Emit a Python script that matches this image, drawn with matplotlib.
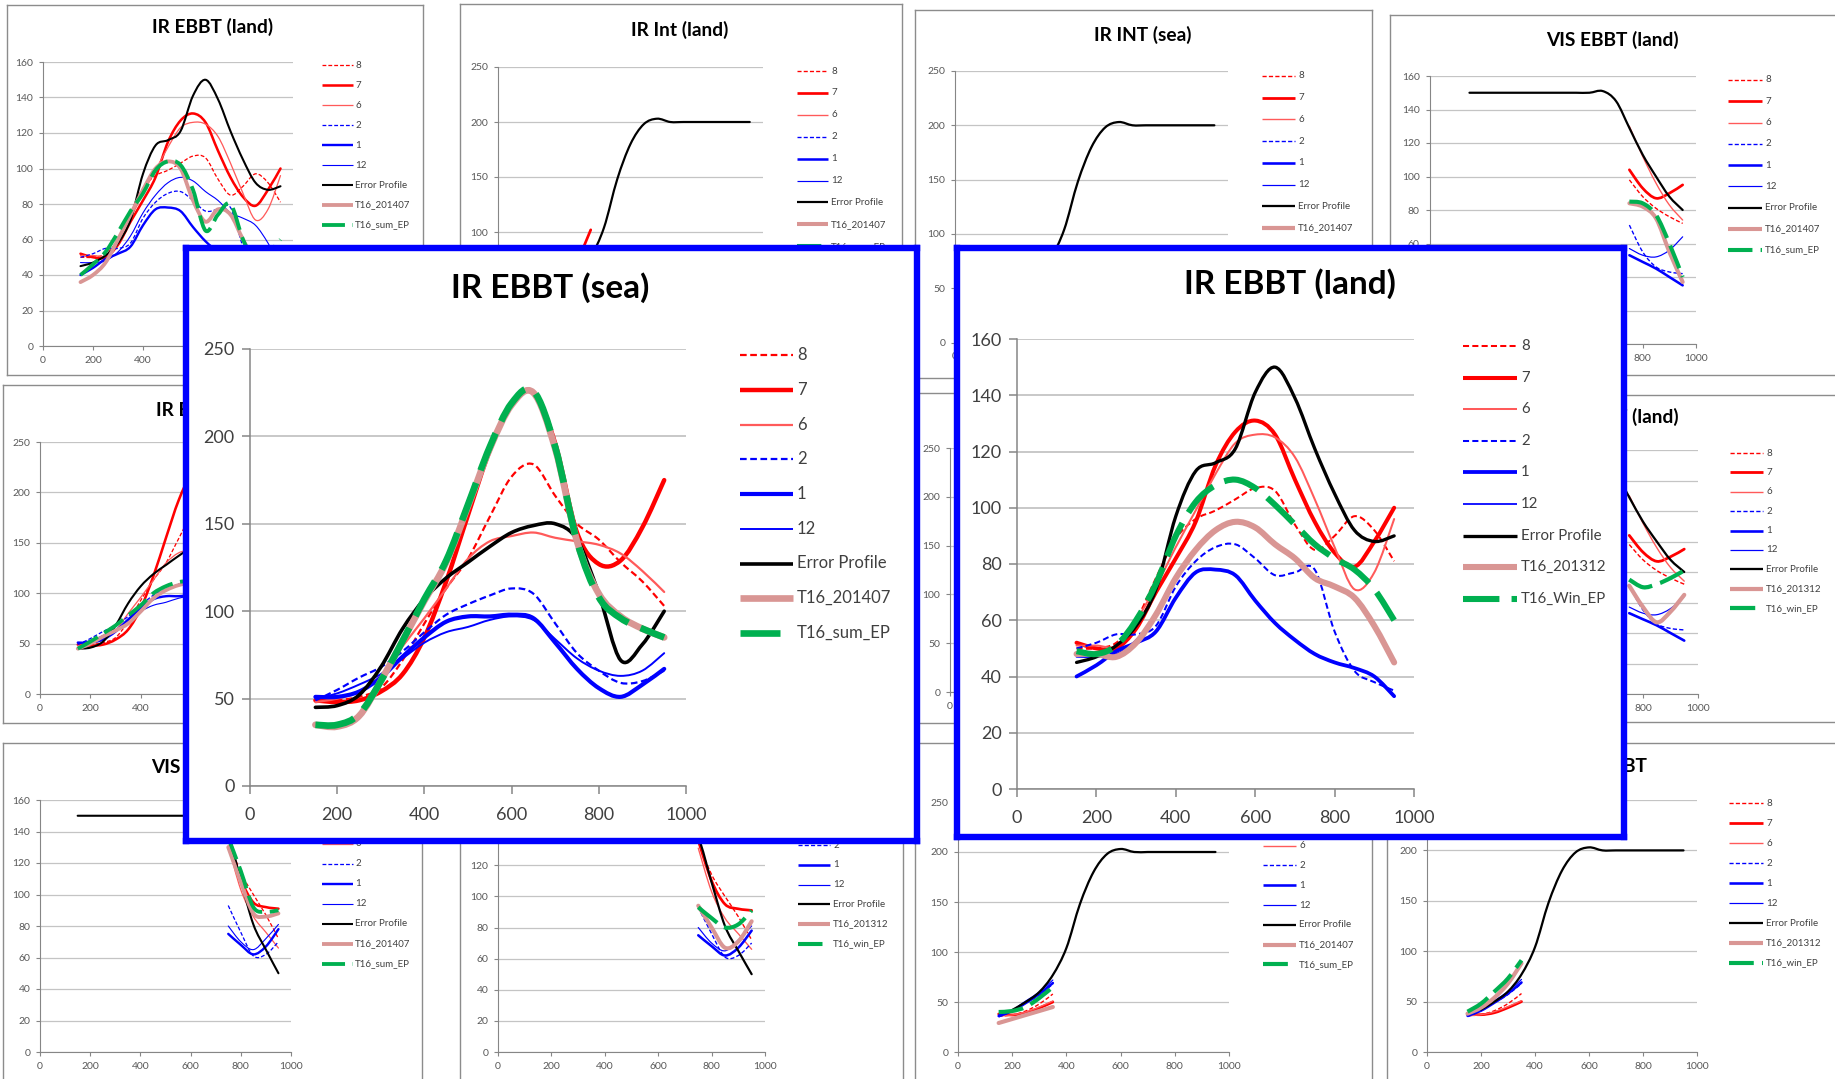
import numpy as np
import matplotlib
matplotlib.use("Agg")
import matplotlib.pyplot as plt
from matplotlib.path import Path
from matplotlib.patches import PathPatch
from matplotlib.ticker import FuncFormatter

W, H = 1835, 1079
plt.rcParams['font.family'] = ['Lato', 'DejaVu Sans']

# ---- values ----
X_FULL = [150, 200, 250, 300, 350, 400, 450, 500, 550, 600, 650, 700, 750, 800, 850, 900, 950]
X_VIS = [750, 800, 850, 900, 950]
X_INT = [150, 200, 250, 300, 350]
X_INT_EP = [200, 250, 300, 350, 400, 450, 500, 550, 600, 650, 700, 750, 800, 850, 900, 950]

# IR EBBT (sea)
SEA_8 = [48, 49, 51, 56, 72, 93, 113, 130, 154, 177, 184, 166, 150, 141, 128, 117, 103]
SEA_7 = [49, 48, 49, 54, 64, 85, 117, 155, 192, 218, 225, 196, 145, 127, 129, 148, 175]
SEA_6 = [48, 50, 54, 63, 80, 96, 113, 130, 140, 143, 145, 142, 140, 138, 133, 123, 111]
SEA_2 = [49, 55, 62, 68, 77, 88, 98, 104, 109, 113, 110, 93, 76, 66, 59, 60, 66]
SEA_1 = [51, 51, 54, 62, 74, 85, 94, 97, 97, 98, 96, 82, 67, 56, 51, 58, 67]
SEA_12 = [50, 53, 58, 64, 73, 82, 88, 91, 95, 97, 95, 84, 73, 66, 63, 66, 76]
SEA_EP = [45, 46, 52, 68, 90, 107, 119, 128, 137, 145, 149, 150, 141, 110, 72, 81, 100]
SEA_T16_201407 = [35, 34, 40, 60, 83, 106, 128, 160, 193, 218, 225, 193, 140, 110, 97, 90, 85]
SEA_T16_SUM = [35, 35, 41, 60, 83, 107, 129, 161, 194, 219, 226, 194, 140, 108, 96, 90, 85]
SEA_SMALL_201407 = [45, 50, 57, 63, 70, 82, 95, 103, 108, 110, 108, 103, 97, 91, 87, 85, 84]
SEA_SMALL_SUM = [45, 52, 60, 68, 78, 88, 100, 107, 111, 112, 110, 105, 98, 92, 88, 86, 85]

# IR EBBT (land)
LAND_8 = [50, 50, 52, 60, 75, 89, 96, 99, 103, 107, 106, 94, 85, 90, 97, 92, 81]
LAND_7 = [52, 50, 50, 57, 70, 82, 95, 115, 127, 131, 126, 110, 95, 84, 79, 88, 100]
LAND_6 = [51, 51, 51, 60, 72, 86, 99, 112, 123, 126, 125, 118, 103, 86, 71, 77, 96]
LAND_2 = [50, 52, 55, 55, 58, 72, 81, 86, 87, 82, 76, 77, 78, 56, 42, 38, 35]
LAND_1 = [40, 44, 49, 52, 56, 68, 77, 78, 76, 67, 59, 53, 48, 45, 43, 40, 33]
LAND_12 = [47, 47, 48, 53, 62, 75, 85, 92, 95, 93, 87, 82, 75, 72, 68, 58, 45]
LAND_EP = [45, 47, 51, 58, 71, 97, 113, 116, 121, 141, 150, 139, 121, 105, 92, 88, 90]
LAND_T16_201312 = [48, 48, 47, 52, 62, 75, 85, 92, 95, 93, 87, 82, 75, 72, 68, 58, 45]
LAND_T16_WIN = [49, 48, 51, 60, 73, 90, 102, 108, 110, 107, 101, 94, 87, 82, 78, 71, 60]
LAND_T16_201407 = [36, 40, 47, 60, 74, 88, 100, 104, 100, 82, 70, 77, 74, 60, 48, 45, 45]
LAND_T16_SUM = [40, 46, 53, 64, 76, 86, 99, 104, 102, 88, 65, 74, 80, 60, 48, 52, 60]

# VIS EBBT (land)
VISL_8 = [98, 88, 81, 76, 72]
VISL_7 = [104, 93, 87, 90, 95]
VISL_6 = [130, 112, 96, 83, 74]
VISL_2 = [71, 55, 46, 43, 42]
VISL_1 = [53, 49, 45, 40, 35]
VISL_12 = [57, 53, 52, 56, 64]
VISL_EP = [150, 150, 150, 150, 150, 150, 150, 150, 150, 150, 151, 145, 129, 113, 100, 88, 80]
VISL_T16_201407 = [84, 82, 75, 55, 37]
VISL_T16_SUM = [85, 84, 77, 60, 40]
VISL_T16_201312 = [71, 57, 47, 54, 65]
VISL_T16_WIN = [75, 70, 72, 76, 81]

# VIS EBBT (sea)
VISS_8 = [135, 114, 100, 87, 72]
VISS_7 = [136, 110, 95, 92, 91]
VISS_6 = [131, 103, 86, 76, 66]
VISS_2 = [93, 76, 61, 62, 70]
VISS_1 = [75, 68, 62, 67, 78]
VISS_12 = [80, 70, 65, 72, 81]
VISS_EP = [150, 150, 150, 150, 150, 150, 150, 150, 150, 150, 150, 149, 138, 109, 81, 65, 50]
VISS_T16_201407 = [130, 108, 88, 86, 88]
VISS_T16_SUM = [136, 115, 92, 89, 90]
VISS_T16_201312 = [94, 80, 67, 71, 84]
VISS_T16_WIN = [93, 86, 80, 82, 91]

# IR INT
INT_8 = [36, 37, 41, 48, 58]
INT_7 = [38, 37, 39, 44, 50]
INT_LAND_7 = [40, 44, 55, 74, 102]
INT_6 = [36, 37, 40, 45, 51]
INT_2 = [35, 41, 49, 57, 68]
INT_1 = [36, 41, 49, 58, 69]
INT_12 = [37, 42, 51, 60, 72]
INT_EP = [42, 50, 60, 77, 104, 148, 180, 198, 203, 200, 200, 200, 200, 200, 200, 200]
INT_T16_201407 = [29, 33, 37, 41, 45]
INT_T16_SUM = [40, 41, 45, 54, 65]
INT_T16_201312 = [38, 44, 54, 68, 88]
INT_T16_WIN = [40, 48, 60, 73, 91]

LAB_SUM = ['8', '7', '6', '2', '1', '12', 'Error Profile', 'T16_201407', 'T16_sum_EP']
LAB_WIN = ['8', '7', '6', '2', '1', '12', 'Error Profile', 'T16_201312', 'T16_win_EP']
LAB_WIN_BIG = ['8', '7', '6', '2', '1', '12', 'Error Profile', 'T16_201312', 'T16_Win_EP']

KEYS = ['8', '7', '6', '2', '1', '12', 'ep', 'pink', 'green']
STYLE = {
    '8': ('#ff0000', 1.6, (0, (3, 1.6))),
    '7': ('#ff0000', 3.2, '-'),
    '6': ('#ff5a5a', 1.6, '-'),
    '2': ('#0000ff', 1.6, (0, (3, 1.6))),
    '1': ('#0000ff', 3.0, '-'),
    '12': ('#0000ff', 1.4, '-'),
    'ep': ('#000000', 2.6, '-'),
    'pink': ('#d99694', 4.8, '-'),
    'green': ('#00b050', 4.8, (0, (6, 2))),
}

# the two highlighted frames, pixel boxes (left, top, right, bottom)
BIG_SEA = (186, 248, 917, 841)
BIG_LAND = (957, 248, 1624, 837)


def sets(xs, a8, a7, a6, a2, a1, a12, xep, ep, pink, green):
    return {'8': (xs, a8), '7': (xs, a7), '6': (xs, a6), '2': (xs, a2), '1': (xs, a1),
            '12': (xs, a12), 'ep': (xep, ep), 'pink': (xs, pink), 'green': (xs, green)}


def smooth(xs, ys):
    # excel style smoothed line: bezier through the points
    p = np.column_stack([xs, ys]).astype(float)
    n = len(p)
    verts, codes = [p[0]], [Path.MOVETO]
    for i in range(n - 1):
        p0, p1, p2, p3 = p[max(i - 1, 0)], p[i], p[i + 1], p[min(i + 2, n - 1)]
        verts += [p1 + (p2 - p0) / 6, p2 - (p3 - p1) / 6, p2]
        codes += [Path.CURVE4] * 3
    return Path(verts, codes)


def rect(x0, y0, x1, y1):
    return [x0 / W, 1 - y1 / H, (x1 - x0) / W, (y1 - y0) / H]


def covered(cx, cy, w, h):
    # text box lies completely under one of the highlighted charts
    return any(r[0] <= cx - w / 2 and cx + w / 2 <= r[2] and r[1] <= cy - h / 2 and cy + h / 2 <= r[3]
               for r in (BIG_SEA, BIG_LAND))


fig = plt.figure(figsize=(W / 100, H / 100), dpi=100)
fig.patch.set_facecolor('white')


def panel(z, frame, plot, ymax, ystep, title, tpos, data, labels, leg, big=False):
    k = (plot[2] - plot[0]) / 436.0
    fax = fig.add_axes(rect(*frame), zorder=z)
    fax.set_xticks([]); fax.set_yticks([])
    fax.set_xlim(0, 1); fax.set_ylim(0, 1)
    for s in fax.spines.values():
        s.set_color('#0000ff' if big else '#8c8c8c')
        s.set_linewidth(4.6 if big else 1.0)

    ax = fig.add_axes(rect(*plot), zorder=z + 0.5)
    ax.patch.set_alpha(0)
    for key in KEYS:
        xs, ys = data[key]
        col, lw, ls = STYLE[key]
        ax.add_patch(PathPatch(smooth(xs, ys), fill=False, ec=col, lw=lw * k, ls=ls,
                               capstyle='round' if ls == '-' else 'butt', joinstyle='round'))
    ax.set_xlim(0, 1000); ax.set_ylim(0, ymax)
    ax.set_xticks(range(0, 1001, 200))
    ax.set_yticks(np.arange(0, ymax + 1, ystep))
    ax.yaxis.grid(True, color='#c4c4c4', lw=1.3 if big else 0.9)
    ax.set_axisbelow(True)
    ax.spines['top'].set_visible(False); ax.spines['right'].set_visible(False)
    for s in ['left', 'bottom']:
        ax.spines[s].set_color('#868686'); ax.spines[s].set_linewidth(1.1 if big else 0.8)
    if big:
        ax.tick_params(colors='#868686', labelcolor='#404040', labelsize=13, length=6, width=1.1, pad=5)
        ax.tick_params(axis='x', pad=9)
    else:
        ax.tick_params(colors='#868686', labelcolor='#595959', labelsize=7.5, length=3, width=0.8, pad=4)
        x0, y0, x1, y1 = plot
        ax.yaxis.set_major_formatter(FuncFormatter(
            lambda v, pos: '' if covered(x0 - 14, y1 - v / ymax * (y1 - y0), 20, 10) else f'{v:g}'))
        ax.xaxis.set_major_formatter(FuncFormatter(
            lambda v, pos: '' if covered(x0 + v / 1000 * (x1 - x0), y1 + 14, 20, 10) else f'{v:g}'))

    tfs = 24 if big else 13.8
    if big or not covered(tpos[0], tpos[1], len(title) * tfs * 0.75, tfs * 1.3):
        fax.text(tpos[0] / W, 1 - tpos[1] / H, title, transform=fig.transFigure, ha='center', va='center',
                 fontsize=tfs, fontweight='bold', color='black')
    lx0, lx1, tx, ly0, step, fs = leg
    for i, (key, lab) in enumerate(zip(KEYS, labels)):
        ypx = ly0 + i * step
        y = 1 - ypx / H
        col, lw, ls = STYLE[key]
        fax.plot([lx0 / W, lx1 / W], [y, y], transform=fig.transFigure, color=col, lw=lw * k, ls=ls,
                 clip_on=False, solid_capstyle='butt', dash_capstyle='butt')
        tw = len(lab) * fs * 0.75
        if big or not covered(tx + tw / 2, ypx, tw, fs * 1.4):
            fax.text(tx / W, y, lab, transform=fig.transFigure, va='center', ha='left', fontsize=fs, color='#404040')


sea = sets(X_FULL, SEA_8, SEA_7, SEA_6, SEA_2, SEA_1, SEA_12, X_FULL, SEA_EP, SEA_T16_201407, SEA_T16_SUM)
sea_small = sets(X_FULL, SEA_8, SEA_7, SEA_6, SEA_2, SEA_1, SEA_12, X_FULL, SEA_EP, SEA_SMALL_201407, SEA_SMALL_SUM)
land_sum = sets(X_FULL, LAND_8, LAND_7, LAND_6, LAND_2, LAND_1, LAND_12, X_FULL, LAND_EP, LAND_T16_201407, LAND_T16_SUM)
land_win = sets(X_FULL, LAND_8, LAND_7, LAND_6, LAND_2, LAND_1, LAND_12, X_FULL, LAND_EP, LAND_T16_201312, LAND_T16_WIN)
visl_sum = sets(X_VIS, VISL_8, VISL_7, VISL_6, VISL_2, VISL_1, VISL_12, X_FULL, VISL_EP, VISL_T16_201407, VISL_T16_SUM)
visl_win = sets(X_VIS, VISL_8, VISL_7, VISL_6, VISL_2, VISL_1, VISL_12, X_FULL, VISL_EP, VISL_T16_201312, VISL_T16_WIN)
viss_sum = sets(X_VIS, VISS_8, VISS_7, VISS_6, VISS_2, VISS_1, VISS_12, X_FULL, VISS_EP, VISS_T16_201407, VISS_T16_SUM)
viss_win = sets(X_VIS, VISS_8, VISS_7, VISS_6, VISS_2, VISS_1, VISS_12, X_FULL, VISS_EP, VISS_T16_201312, VISS_T16_WIN)
int_land = sets(X_INT, INT_8, INT_LAND_7, INT_6, INT_2, INT_1, INT_12, X_INT_EP, INT_EP, INT_T16_201407, INT_T16_SUM)
int_sum = sets(X_INT, INT_8, INT_7, INT_6, INT_2, INT_1, INT_12, X_INT_EP, INT_EP, INT_T16_201407, INT_T16_SUM)
int_win = sets(X_INT, INT_8, INT_7, INT_6, INT_2, INT_1, INT_12, X_INT_EP, INT_EP, INT_T16_201312, INT_T16_WIN)

# background collage, row 1
panel(1, (7, 5, 423, 375), (43, 62, 293, 346), 160, 20, 'IR EBBT (land)', (213, 27), land_sum, LAB_SUM,
      (322, 353, 355, 65, 20, 7))
panel(3, (460, 4, 902, 378), (498, 67, 763, 342), 250, 50, 'IR Int (land)', (680, 30), int_land, LAB_SUM,
      (797, 828, 831, 71, 21.9, 7))
panel(5, (915, 10, 1372, 378), (955, 71, 1228, 342.5), 250, 50, 'IR INT (sea)', (1143, 35), int_sum, LAB_SUM,
      (1262, 1295, 1298, 76, 21.7, 7))
panel(7, (1390, 15, 1845, 375), (1429.5, 76, 1696, 344), 160, 20, 'VIS EBBT (land)', (1612, 40), visl_sum, LAB_SUM,
      (1728, 1762, 1765, 80, 21.25, 7))
# row 2
panel(9, (3, 385, 422, 723), (40, 442, 292, 694), 250, 50, 'IR EBBT (sea)', (213, 410), sea_small, LAB_SUM,
      (322, 353, 355, 447, 20, 7))
panel(11, (914, 393, 1372, 723), (950, 448, 1222, 692), 250, 50, 'IR INT (land)', (1143, 418), int_win, LAB_WIN,
      (1262, 1295, 1298, 452, 20, 7))
panel(13, (1390, 395, 1845, 722), (1423, 450, 1698, 694), 160, 20, 'VIS EBBT (land)', (1612, 417), visl_win, LAB_WIN,
      (1730, 1763, 1766, 453, 19.4, 7))
# row 3
panel(15, (3, 743, 422, 1095), (40, 800, 291, 1052), 160, 20, 'VIS EBBT (sea)', (213, 767), viss_sum, LAB_SUM,
      (322, 353, 355, 804, 20, 7))
panel(17, (460, 743, 903, 1095), (498, 803, 765, 1052), 160, 20, 'VIS EBBT (sea)', (680, 767), viss_win, LAB_WIN,
      (798, 830, 833, 786, 19.7, 7))
panel(19, (915, 743, 1372, 1095), (958, 802, 1229, 1052), 250, 50, 'IR INT (sea)', (1143, 767), int_sum, LAB_SUM,
      (1263, 1296, 1299, 806, 19.8, 7))
panel(21, (1387, 743, 1845, 1095), (1427, 800, 1697, 1052), 250, 50, 'IR EBBT', (1612, 767), int_win, LAB_WIN,
      (1729, 1763, 1766, 803, 20, 7))

# the two highlighted charts on top
panel(30, BIG_SEA, (250, 349, 686, 786), 250, 50, 'IR EBBT (sea)', (550, 288), sea, LAB_SUM,
      (740, 793, 797, 355, 34.75, 12), big=True)
panel(32, BIG_LAND, (1017, 339, 1414, 789), 160, 20, 'IR EBBT (land)', (1290, 284), land_win, LAB_WIN_BIG,
      (1463, 1517, 1521, 346, 31.6, 10.8), big=True)

fig.savefig('out.png', dpi=100, facecolor='white')
